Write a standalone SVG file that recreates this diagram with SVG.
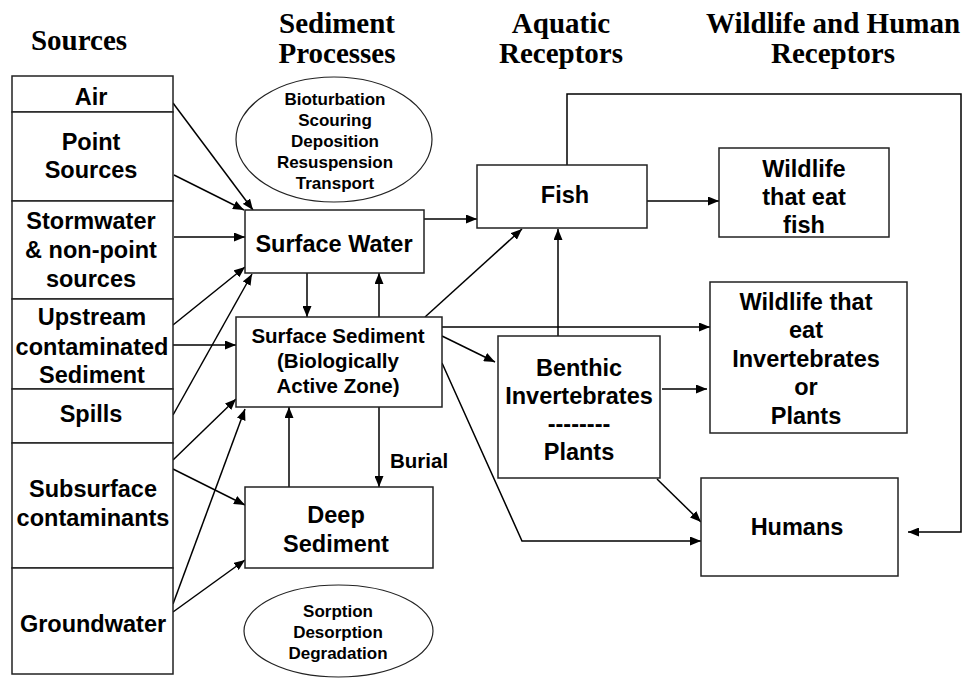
<svg xmlns="http://www.w3.org/2000/svg" width="967" height="678" viewBox="0 0 967 678">
<style>
.title{font-family:"Liberation Serif","Times New Roman",serif;font-weight:bold;font-size:29px;text-anchor:middle;fill:#000}
.lbl{font-family:"Liberation Sans",Arial,sans-serif;font-weight:bold;font-size:23.5px;text-anchor:middle;fill:#000}
.mid{font-family:"Liberation Sans",Arial,sans-serif;font-weight:bold;font-size:20.5px;text-anchor:middle;fill:#000}
.el{font-family:"Liberation Sans",Arial,sans-serif;font-weight:bold;font-size:17px;text-anchor:middle;fill:#000}
.box{fill:#fff;stroke:#222;stroke-width:1.5}
.ell{fill:#fff;stroke:#222;stroke-width:1.2}
.con{fill:none;stroke:#000;stroke-width:1.5}
.arr{marker-end:url(#ah)}
</style>
<defs>
<marker id="ah" markerUnits="userSpaceOnUse" markerWidth="11" markerHeight="9" refX="11" refY="4.5" orient="auto">
<path d="M0,0 L11,4.5 L0,9 z" fill="#000"/>
</marker>
</defs>
<rect width="967" height="678" fill="#fff"/>

<g id="titles">
<text class="title" x="79" y="50">Sources</text>
<text class="title" x="337" y="33">Sediment</text>
<text class="title" x="337" y="63">Processes</text>
<text class="title" x="561" y="33">Aquatic</text>
<text class="title" x="561" y="63">Receptors</text>
<text class="title" x="833" y="33">Wildlife and Human</text>
<text class="title" x="833" y="63">Receptors</text>
</g>

<g id="connectors">
<path class="con arr" d="M173,103 L253,210"/>
<path class="con arr" d="M174,175 L244,210"/>
<path class="con arr" d="M174,237 L245,237"/>
<path class="con arr" d="M173,325 L245,267"/>
<path class="con arr" d="M173,415 L252,274"/>
<path class="con arr" d="M173,345 L236,345"/>
<path class="con arr" d="M173,460 L236,399"/>
<path class="con arr" d="M173,469 L245,505"/>
<path class="con arr" d="M173,604 L245,409"/>
<path class="con arr" d="M173,612 L245,560"/>
<path class="con arr" d="M307,273 L307,317"/>
<path class="con arr" d="M379,317 L379,273"/>
<path class="con arr" d="M289,487 L289,407"/>
<path class="con arr" d="M379,407 L379,487"/>
<path class="con arr" d="M424,219 L477,219"/>
<path class="con arr" d="M425,317 L522,229"/>
<path class="con arr" d="M442,327 L710,327"/>
<path class="con arr" d="M442,336 L495,362"/>
<path class="con arr" d="M442,363 L522,541 L701,541"/>
<path class="con arr" d="M558,336 L558,229"/>
<path class="con arr" d="M662,389 L707,389"/>
<path class="con arr" d="M657,479 L701,522"/>
<path class="con arr" d="M647,201 L719,201"/>
<path class="con arr" d="M567,165 L567,94 L961,94 L961,532 L908,532"/>
<text class="mid" x="390" y="468" style="text-anchor:start">Burial</text>
</g>

<g id="src-air">
<rect class="box" x="12" y="76" width="161" height="36"/>
<text class="lbl" x="91" y="105">Air</text>
</g>
<g id="src-point">
<rect class="box" x="12" y="112" width="161" height="89"/>
<text class="lbl" x="91" y="150">Point</text>
<text class="lbl" x="91" y="178">Sources</text>
</g>
<g id="src-storm">
<rect class="box" x="12" y="201" width="161" height="98"/>
<text class="lbl" x="91" y="229">Stormwater</text>
<text class="lbl" x="91" y="258">&amp; non-point</text>
<text class="lbl" x="91" y="287">sources</text>
</g>
<g id="src-upstream">
<rect class="box" x="12" y="299" width="161" height="90"/>
<text class="lbl" x="92" y="325">Upstream</text>
<text class="lbl" x="92" y="355">contaminated</text>
<text class="lbl" x="92" y="383">Sediment</text>
</g>
<g id="src-spills">
<rect class="box" x="12" y="389" width="161" height="54"/>
<text class="lbl" x="91" y="422">Spills</text>
</g>
<g id="src-subsurface">
<rect class="box" x="12" y="443" width="161" height="125"/>
<text class="lbl" x="93" y="497">Subsurface</text>
<text class="lbl" x="93" y="526">contaminants</text>
</g>
<g id="src-groundwater">
<rect class="box" x="12" y="568" width="161" height="106"/>
<text class="lbl" x="93" y="632">Groundwater</text>
</g>

<g id="processes-top">
<ellipse class="ell" cx="334" cy="139.5" rx="98" ry="62.5"/>
<text class="el" x="335" y="105">Bioturbation</text>
<text class="el" x="335" y="126">Scouring</text>
<text class="el" x="335" y="147">Deposition</text>
<text class="el" x="335" y="168">Resuspension</text>
<text class="el" x="335" y="189">Transport</text>
</g>

<g id="surface-water">
<rect class="box" x="245" y="210" width="179" height="63"/>
<text class="lbl" x="334" y="252">Surface Water</text>
</g>

<g id="surface-sediment">
<rect class="box" x="236" y="317" width="206" height="90"/>
<text class="mid" x="338" y="343">Surface Sediment</text>
<text class="mid" x="338" y="368">(Biologically</text>
<text class="mid" x="338" y="393">Active Zone)</text>
</g>

<g id="deep-sediment">
<rect class="box" x="245" y="487" width="188" height="81"/>
<text class="lbl" x="336" y="523">Deep</text>
<text class="lbl" x="336" y="552">Sediment</text>
</g>

<g id="processes-bottom">
<ellipse class="ell" cx="338.5" cy="631" rx="94.5" ry="46"/>
<text class="el" x="338" y="617">Sorption</text>
<text class="el" x="338" y="638">Desorption</text>
<text class="el" x="338" y="659">Degradation</text>
</g>

<g id="fish">
<rect class="box" x="477" y="165" width="170" height="63"/>
<text class="lbl" x="565" y="203">Fish</text>
</g>

<g id="benthic">
<rect class="box" x="498" y="336" width="162" height="142"/>
<text class="lbl" x="579" y="376">Benthic</text>
<text class="lbl" x="579" y="404">Invertebrates</text>
<text class="lbl" x="579" y="432">--------</text>
<text class="lbl" x="579" y="460">Plants</text>
</g>

<g id="wildlife-fish">
<rect class="box" x="719" y="148" width="170" height="89"/>
<text class="lbl" x="804" y="177">Wildlife</text>
<text class="lbl" x="804" y="205">that eat</text>
<text class="lbl" x="804" y="233">fish</text>
</g>

<g id="wildlife-invert">
<rect class="box" x="710" y="282" width="197" height="151"/>
<text class="lbl" x="806" y="310">Wildlife that</text>
<text class="lbl" x="806" y="338">eat</text>
<text class="lbl" x="806" y="367">Invertebrates</text>
<text class="lbl" x="806" y="395">or</text>
<text class="lbl" x="806" y="424">Plants</text>
</g>

<g id="humans">
<rect class="box" x="701" y="478" width="197" height="98"/>
<text class="lbl" x="797" y="535">Humans</text>
</g>
</svg>
